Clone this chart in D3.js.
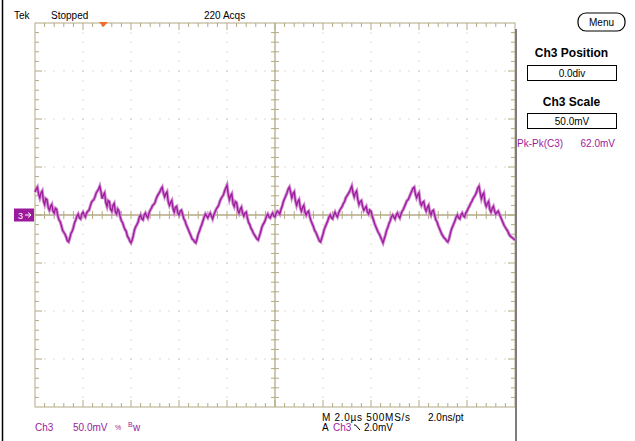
<!DOCTYPE html>
<html><head><meta charset="utf-8">
<script src="https://cdn.jsdelivr.net/npm/d3@7"></script>
<style>
body{margin:0;background:#fff}
svg{display:block}
text{font-family:Arial,"Liberation Sans",sans-serif}
</style>
</head><body>
<svg id="c" width="635" height="441"></svg>
<script>
// ---- data (Ch3 trace, mV, one sample every 0.05 µs from 0 to 20 µs) ----
const ch3mV = [
  24,27,29,22,18,23,25,15,11,17,16,8,5,9,11,4,2,7,6,-1,-5,-7,-11,-16,-18,-20,-23,-27,-28,-24,
  -19,-17,-13,-8,-5,-1,1,-3,-4,1,3,0,-2,2,4,5,9,13,15,16,19,23,25,27,
  30,24,17,21,23,13,9,15,14,6,4,10,12,3,1,6,4,-2,-6,-8,-12,-15,-17,-22,-24,-27,-29,-26,-21,-15,
  -12,-10,-7,-2,0,-4,-5,0,2,-1,-3,2,5,7,10,11,13,17,20,22,24,27,
  29,23,19,22,24,14,10,13,15,7,3,8,9,2,0,4,5,1,-4,-6,-10,-13,-16,-19,-22,-25,-26,-28,-29,-25,
  -20,-17,-13,-10,-6,-2,1,-1,-3,0,2,-1,-4,0,3,6,8,10,14,17,19,21,25,28,
  31,22,16,20,22,12,9,14,13,5,2,6,8,2,-1,2,3,-3,-8,-10,-14,-16,-19,-21,-23,-25,-26,-22,-18,-13,
  -10,-8,-5,-1,1,-2,-3,0,2,-1,-2,2,4,3,1,6,9,14,17,20,23,27,
  29,24,18,22,24,15,10,14,16,8,4,8,10,3,0,3,4,-2,-6,-9,-12,-16,-18,-21,-24,-27,-28,-24,-20,-15,
  -12,-9,-6,-2,0,-3,-4,0,3,0,-2,2,5,7,9,12,14,18,20,22,24,27,
  30,23,19,23,25,16,11,14,15,9,5,7,9,3,1,5,4,-1,-5,-9,-12,-15,-18,-20,-23,-26,-29,-25,-21,-16,
  -13,-9,-6,-2,0,-2,-4,0,2,-1,-3,1,4,6,9,12,15,16,19,22,25,28,
  29,22,18,21,23,13,10,13,14,7,4,8,10,3,0,4,5,0,-5,-7,-11,-14,-17,-20,-22,-24,-25,-27,-28,-25,
  -20,-15,-12,-9,-6,-2,0,-3,-4,0,2,-1,-2,2,4,7,9,12,14,17,19,21,24,28,
  30,23,17,21,23,13,9,12,14,6,3,7,9,4,1,3,4,1,-2,-5,-8,-11,-13,-15,-17,-20,-22,-23,-24,-25,-26
];
const sampleStepUs = 0.05;
const timeDomainUs = [0, 20];      // 10 div x 2.0 µs
const voltDomainMV = [-200, 200];  // 8 div x 50.0 mV
const divUs = 2, divMV = 50, minorPerDiv = 5;

const topLabels = [{t:"Tek", x:14}, {t:"Stopped", x:51}, {t:"220 Acqs", x:204}];
const panelTitles = ["Ch3 Position", "Ch3 Scale"];
const panelValues = ["0.0div", "50.0mV"];
const measLabel = "Pk-Pk(C3)", measValue = "62.0mV";
const bottomLeft = {ch:"Ch3", scale:"50.0mV"};
const timebase = "M 2.0µs 500MS/s", resolution = "2.0ns/pt";
const trigger = {src:"Ch3", level:"2.0mV", posUs:2.85};

// ---- layout ----
const L = 35, R = 515, T = 23, B = 407;
const grat = "#b3aa84", dotc = "#bdb592";
const purple = "#9c1a9c", purpleLight = "#d08ad0";

const svg = d3.select("#c");
const x = d3.scaleLinear().domain(timeDomainUs).range([L, R]);
const y = d3.scaleLinear().domain(voltDomainMV).range([B, T]);

// left frame line
svg.append("line").attr("x1",2.5).attr("x2",2.5).attr("y1",0).attr("y2",441)
  .attr("stroke","#000").attr("stroke-width",1.5);

const g = svg.append("g");
const minorUs = d3.range(timeDomainUs[0], timeDomainUs[1] + 1e-9, divUs/minorPerDiv);
const minorMV = d3.range(voltDomainMV[0], voltDomainMV[1] + 1e-9, divMV/minorPerDiv);
const divUsList = d3.range(timeDomainUs[0], timeDomainUs[1] + 1e-9, divUs);
const divMVList = d3.range(voltDomainMV[0], voltDomainMV[1] + 1e-9, divMV);
const cx = x(10), cy = y(0);
const isDiv = (v, d) => Math.abs(v/d - Math.round(v/d)) < 1e-6;

// dotted grid
divUsList.slice(1,-1).filter(t => Math.abs(t-10)>1e-6).forEach(t => {
  minorMV.slice(1,-1).forEach(v => {
    g.append("rect").attr("x", Math.round(x(t))-0.5).attr("y", Math.round(y(v))-0.5)
      .attr("width",1).attr("height",1).attr("fill",dotc);
  });
});
divMVList.slice(1,-1).filter(v => Math.abs(v)>1e-6).forEach(v => {
  minorUs.slice(1,-1).forEach(t => {
    g.append("rect").attr("x", Math.round(x(t))-0.5).attr("y", Math.round(y(v))-0.5)
      .attr("width",1).attr("height",1).attr("fill",dotc);
  });
});

// border
g.append("rect").attr("x",L).attr("y",T).attr("width",R-L).attr("height",B-T)
  .attr("fill","none").attr("stroke",grat).attr("stroke-width",1);
// center lines
g.append("line").attr("x1",L).attr("x2",R).attr("y1",cy).attr("y2",cy).attr("stroke",grat).attr("stroke-width",1.3);
g.append("line").attr("x1",cx).attr("x2",cx).attr("y1",T).attr("y2",B).attr("stroke",grat).attr("stroke-width",1.3);

// ticks
minorUs.slice(1,-1).forEach(t => {
  const px = x(t), len = isDiv(t, divUs) ? 7 : 4;
  g.append("line").attr("x1",px).attr("x2",px).attr("y1",T).attr("y2",T+len).attr("stroke",grat);
  g.append("line").attr("x1",px).attr("x2",px).attr("y1",B).attr("y2",B-len).attr("stroke",grat);
  g.append("line").attr("x1",px).attr("x2",px).attr("y1",cy-4).attr("y2",cy+4).attr("stroke",grat);
});
minorMV.slice(1,-1).forEach(v => {
  const py = y(v), len = isDiv(v, divMV) ? 7 : 4;
  g.append("line").attr("x1",L).attr("x2",L+len).attr("y1",py).attr("y2",py).attr("stroke",grat);
  g.append("line").attr("x1",R).attr("x2",R-len).attr("y1",py).attr("y2",py).attr("stroke",grat);
  g.append("line").attr("x1",cx-4).attr("x2",cx+4).attr("y1",py).attr("y2",py).attr("stroke",grat);
});

// right separator
svg.append("line").attr("x1",516).attr("x2",516).attr("y1",29).attr("y2",441)
  .attr("stroke","#7d7d7d").attr("stroke-width",2);

// trace
const line = d3.line().x((d,i) => x(i*sampleStepUs)).y(d => y(d));
svg.append("path").datum(ch3mV).attr("d",line).attr("fill","none")
  .attr("stroke",purpleLight).attr("stroke-width",3.2).attr("stroke-linejoin","miter");
svg.append("path").datum(ch3mV).attr("d",line).attr("fill","none")
  .attr("stroke",purple).attr("stroke-width",1.3).attr("stroke-linejoin","miter");

// trigger position marker
const tx = x(trigger.posUs);
svg.append("path").attr("d",`M${tx-4.5},${T-1}L${tx+4.5},${T-1}L${tx},${T+4}Z`).attr("fill","#f26b2a");

// ch3 ground marker
svg.append("rect").attr("x",14).attr("y",cy-6.5).attr("width",20).attr("height",13).attr("fill",purple);
svg.append("text").attr("x",18).attr("y",cy+3.5).attr("fill","#fff").attr("font-size",9).text("3");
svg.append("path").attr("d",`M25,${cy}h5M28,${cy-2.5}L31,${cy}L28,${cy+2.5}`).attr("stroke","#fff").attr("fill","none").attr("stroke-width",1);

// top labels
topLabels.forEach(d => svg.append("text").attr("x",d.x).attr("y",19).attr("font-size",10).attr("fill","#000").text(d.t));

// Menu button
svg.append("rect").attr("x",578).attr("y",13).attr("width",47).attr("height",18).attr("rx",8).attr("ry",8)
  .attr("fill","#fff").attr("stroke","#000").attr("stroke-width",1.2);
svg.append("text").attr("x",601.5).attr("y",26).attr("text-anchor","middle").attr("font-size",10).text("Menu");

// side panel
const titleY = [57, 106], boxY = [65, 113];
panelTitles.forEach((t,i) => {
  svg.append("text").attr("x",571.5).attr("y",titleY[i]).attr("text-anchor","middle")
    .attr("font-size",12).attr("font-weight","bold").text(t);
  svg.append("rect").attr("x",527.5).attr("y",boxY[i]+0.5).attr("width",89).attr("height",15)
    .attr("fill","#fff").attr("stroke","#000");
  svg.append("text").attr("x",572).attr("y",boxY[i]+12).attr("text-anchor","middle")
    .attr("font-size",10).text(panelValues[i]);
});
svg.append("text").attr("x",517).attr("y",147).attr("font-size",10).attr("fill",purple).text(measLabel);
svg.append("text").attr("x",615).attr("y",147).attr("text-anchor","end").attr("font-size",10).attr("fill",purple).text(measValue);

// bottom status
svg.append("text").attr("x",35).attr("y",431).attr("font-size",10).attr("fill",purple).text(bottomLeft.ch);
svg.append("text").attr("x",73).attr("y",431).attr("font-size",10).attr("fill",purple).text(bottomLeft.scale);
svg.append("text").attr("x",115).attr("y",430).attr("font-size",7).attr("fill",purple).text("%");
svg.append("text").attr("x",128).attr("y",427).attr("font-size",7).attr("fill",purple).text("B");
svg.append("text").attr("x",133).attr("y",431).attr("font-size",10).attr("fill",purple).text("w");

svg.append("text").attr("x",322).attr("y",421).attr("font-size",10).attr("textLength",88).attr("lengthAdjust","spacing").text(timebase);
svg.append("text").attr("x",428).attr("y",421).attr("font-size",10).text(resolution);
svg.append("text").attr("x",322).attr("y",431).attr("font-size",10).text("A");
svg.append("text").attr("x",333).attr("y",431).attr("font-size",10).attr("fill",purple).text(trigger.src);
svg.append("path").attr("d","M354,425h1.5l4.5,5").attr("stroke","#000").attr("fill","none").attr("stroke-width",1);
svg.append("text").attr("x",364).attr("y",431).attr("font-size",10).text(trigger.level);
</script>
</body></html>
